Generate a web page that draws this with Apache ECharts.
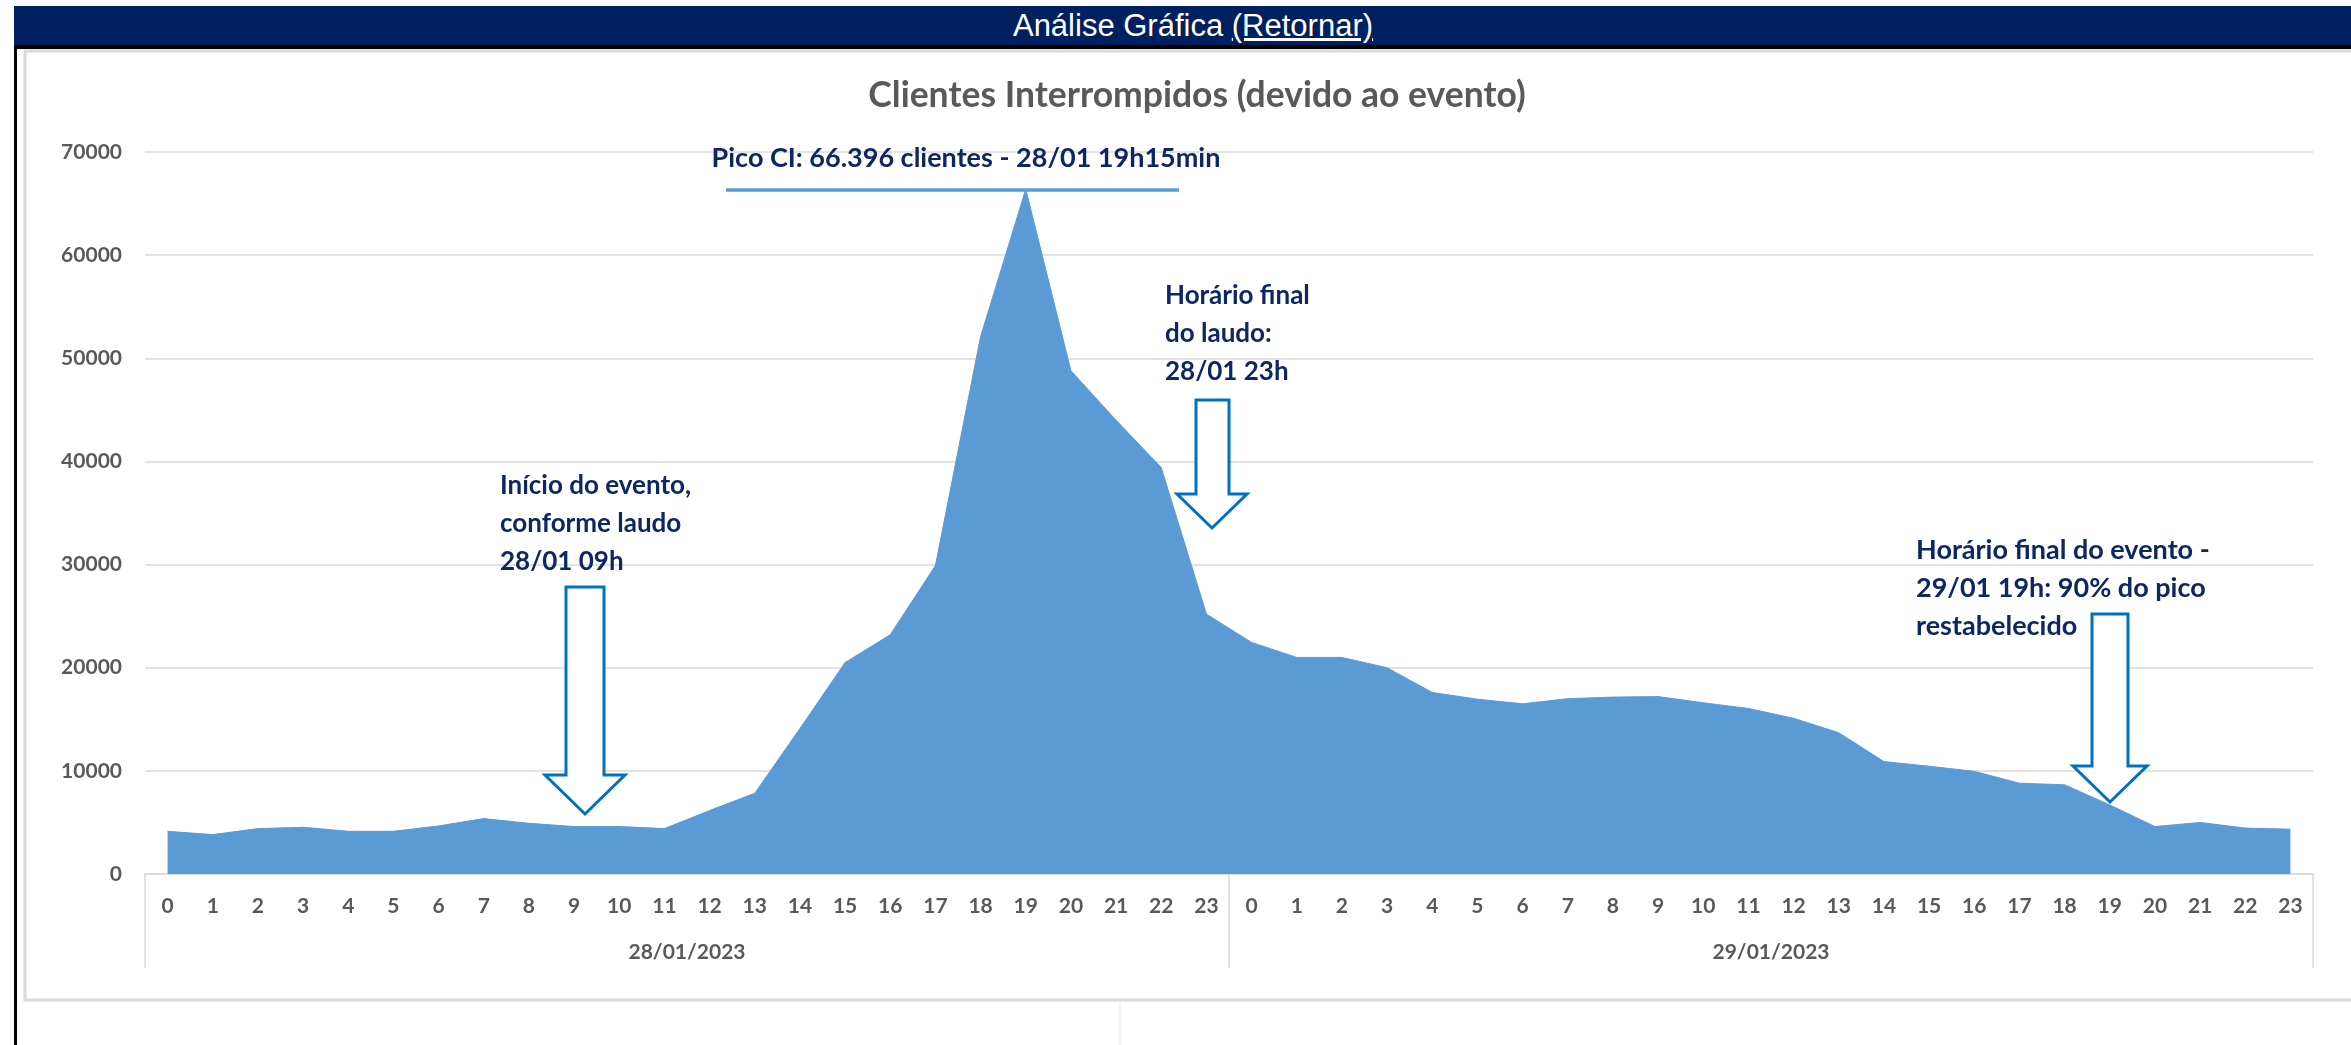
<!DOCTYPE html>
<html>
<head>
<meta charset="utf-8">
<script src="https://cdn.jsdelivr.net/npm/echarts@6/dist/echarts.min.js"></script>
<style>
  html, body { margin:0; padding:0; background:#fff; }
  #wrap { position:relative; width:2351px; height:1045px; overflow:hidden; }
  #chart { position:absolute; left:0; top:0; width:2351px; height:1045px; }
  #hdr { position:absolute; left:14px; top:6px; width:2337px; height:39px; background:#012060;
         color:#fff; font-family:"Liberation Sans", Arial, sans-serif; font-size:31px; line-height:39px; }
  #hdr span { position:absolute; left:1179px; transform:translateX(-50%); white-space:nowrap; }
  #hdr u { text-decoration:underline; }
  #blackH { position:absolute; left:14px; top:45px; width:2337px; height:4px; background:#000; }
  #blackV { position:absolute; left:14px; top:45px; width:3px; height:1000px; background:#000; }
</style>
</head>
<body>
<div id="wrap">
  <div id="chart"></div>
  <div id="hdr"><span>Análise Gráfica <u>(Retornar)</u></span></div>
  <div id="blackH"></div>
  <div id="blackV"></div>
</div>
<script>
// ---- data ----
var hours = ["0","1","2","3","4","5","6","7","8","9","10","11","12","13","14","15","16","17","18","19","20","21","22","23",
             "0","1","2","3","4","5","6","7","8","9","10","11","12","13","14","15","16","17","18","19","20","21","22","23"];
var dates = ["28/01/2023", "29/01/2023"];
var clientesDia1 = [4140, 3820, 4400, 4530, 4140, 4140, 4660, 5370, 4920, 4600, 4600, 4400,
                    6150, 7830, 14100, 20500, 23200, 29900, 52100, 66396, 48800, 44000, 39400, 25200];
var clientesDia2 = [22450, 21000, 21000, 20000, 17600, 16950, 16500, 17000, 17150, 17200, 16600, 16050,
                    15100, 13700, 10900, 10450, 9950, 8800, 8650, 6700, 4600, 5000, 4450, 4350];
var yTicks = { min: 0, max: 70000, interval: 10000 };
var titulo = "Clientes Interrompidos (devido ao evento)";
var notaPico = "Pico CI: 66.396 clientes - 28/01 19h15min";
var notaInicio = "Início do evento,\nconforme laudo\n28/01 09h";
var notaLaudo = "Horário final\ndo laudo:\n28/01 23h";
var notaFinal = "Horário final do evento -\n29/01 19h: 90% do pico\nrestabelecido";

var valores = clientesDia1.concat(clientesDia2);

var chart = echarts.init(document.getElementById('chart'), null, { renderer: 'canvas' });

var navy = '#0C2763';
var arrowBlue = '#0070C0';
var gray = '#595959';
var gridGray = '#D9D9D9';

function arrow(sl, sr, top, headY, hl, hr, tipX, tipY) {
  return {
    type: 'polygon',
    shape: { points: [[sl, top], [sr, top], [sr, headY], [hr, headY], [tipX, tipY], [hl, headY], [sl, headY]] },
    style: { fill: '#fff', stroke: arrowBlue, lineWidth: 3 },
    z: 10
  };
}
function note(txt, x, y, align, size) {
  return {
    type: 'text', x: x, y: y, z: 11,
    style: { text: txt, fill: navy, font: 'bold ' + (size || 26) + 'px Lato', lineHeight: 38,
             align: align || 'left', verticalAlign: 'middle' }
  };
}

chart.setOption({
  animation: false,
  backgroundColor: '#fff',
  title: {
    text: titulo, left: 1192, top: 73, textAlign: 'center',
    textStyle: { color: gray, fontFamily: 'Lato', fontWeight: 'bold', fontSize: 35.5 }
  },
  grid: { left: 145, right: 38, top: 152, bottom: 171 },
  xAxis: [
    {
      type: 'category', data: hours, boundaryGap: true,
      axisLine: { show: true, lineStyle: { color: gridGray, width: 1.5 } },
      axisTick: { show: false },
      axisLabel: { interval: 0, color: gray, fontFamily: 'Lato', fontWeight: 'bold', fontSize: 21, margin: 22 },
      splitLine: { show: false }
    },
    {
      type: 'category', data: dates, boundaryGap: true, position: 'bottom', offset: 0,
      axisLine: { show: false },
      axisTick: { show: true, length: 94, lineStyle: { color: gridGray, width: 1.5 } },
      axisLabel: { color: gray, fontFamily: 'Lato', fontWeight: 'bold', fontSize: 21, margin: 68 },
      splitLine: { show: false }
    }
  ],
  yAxis: {
    type: 'value', min: yTicks.min, max: yTicks.max, interval: yTicks.interval,
    axisLine: { show: false }, axisTick: { show: false },
    axisLabel: { color: gray, fontFamily: 'Lato', fontWeight: 'bold', fontSize: 21, margin: 23,
                 formatter: function (v) { return String(v); } },
    splitLine: { lineStyle: { color: gridGray, width: 1.5 } }
  },
  series: [{
    type: 'line', xAxisIndex: 0, data: valores, symbol: 'none', smooth: false,
    lineStyle: { color: '#5B9BD5', width: 1 },
    areaStyle: { color: '#5B9BD5', opacity: 1 },
    z: 2
  }],
  graphic: [
    { type: 'rect', shape: { x: 25, y: 51, width: 2340, height: 949 },
      style: { fill: 'none', stroke: '#D9D9D9', lineWidth: 3 }, z: 0, silent: true },
    { type: 'line', shape: { x1: 1120, y1: 1002, x2: 1120, y2: 1045 },
      style: { stroke: '#EEEEEE', lineWidth: 1.5 }, z: 0 },
    { type: 'line', shape: { x1: 726, y1: 190, x2: 1179, y2: 190 },
      style: { stroke: '#5B9BD5', lineWidth: 3.5 }, z: 10 },
    note(notaPico, 966, 158, 'center', 27),
    note(notaInicio, 500, 524),
    note(notaLaudo, 1165, 334),
    note(notaFinal, 1916, 588, 'left', 27),
    arrow(566, 604, 587, 775, 545, 625, 585, 814),
    arrow(1196, 1229, 400, 494, 1177, 1247, 1212, 528),
    arrow(2092, 2128, 614, 766, 2073, 2147, 2110, 802)
  ]
});
</script>
</body>
</html>
